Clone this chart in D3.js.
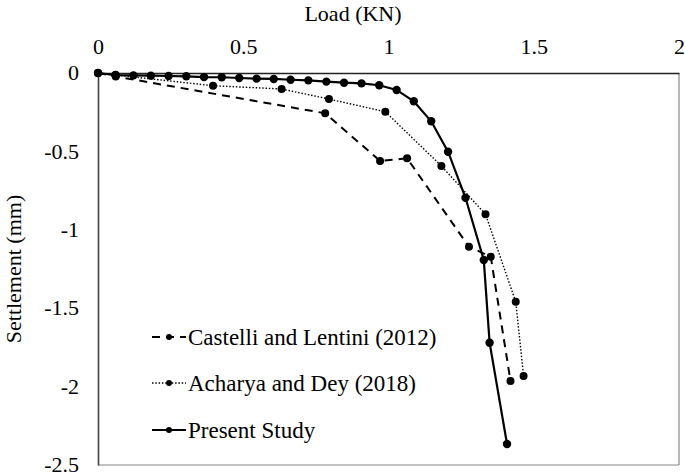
<!DOCTYPE html>
<html><head><meta charset="utf-8">
<script src="https://cdn.jsdelivr.net/npm/d3@7"></script>
<style>body{margin:0;background:#fff}svg{display:block}</style>
</head><body><svg id="c" width="685" height="472"></svg>
<script>
const seriesNames = ["Castelli and Lentini (2012)", "Acharya and Dey (2018)", "Present Study"];
const castelliLoad = [0, 0.061, 0.782, 0.971, 1.064, 1.277, 1.352, 1.420];
const castelliSettle = [0, -0.022, -0.257, -0.561, -0.544, -1.108, -1.172, -1.964];
const acharyaLoad = [0, 0.061, 0.396, 0.632, 0.795, 0.989, 1.182, 1.334, 1.438, 1.465];
const acharyaSettle = [0, -0.013, -0.081, -0.102, -0.166, -0.247, -0.593, -0.901, -1.459, -1.932];
const presentLoad = [0, 0.060, 0.122, 0.182, 0.243, 0.304, 0.365, 0.426, 0.486, 0.546, 0.605, 0.663, 0.724, 0.786, 0.847, 0.907, 0.968, 1.028, 1.087, 1.147, 1.205, 1.265, 1.328, 1.348, 1.408];
const presentSettle = [0, -0.013, -0.015, -0.017, -0.019, -0.021, -0.026, -0.027, -0.032, -0.036, -0.038, -0.043, -0.047, -0.055, -0.062, -0.066, -0.078, -0.108, -0.180, -0.308, -0.502, -0.796, -1.193, -1.720, -2.366];
const xTicks = [0, 0.5, 1, 1.5, 2];
const yTicks = [0, -0.5, -1, -1.5, -2, -2.5];

const FONT = "Liberation Serif";
const svg = d3.select("#c");
const x = d3.scaleLinear().domain([0, 2]).range([98, 679]);
const y = d3.scaleLinear().domain([0, -2.5]).range([73, 465]);
const fs = 22;

// frame (right & bottom)
svg.append("line").attr("x1", x(2)).attr("x2", x(2)).attr("y1", y(0)).attr("y2", y(-2.5)).attr("stroke", "#888").attr("stroke-width", 1.2);
svg.append("line").attr("x1", x(0)).attr("x2", x(2)).attr("y1", y(-2.5)).attr("y2", y(-2.5)).attr("stroke", "#888").attr("stroke-width", 1.2);

// axes
const xAxis = svg.append("g").attr("transform", `translate(0,${y(0)})`)
  .call(d3.axisTop(x).tickValues(xTicks).tickSize(0).tickPadding(19).tickFormat(d => String(d)));
const yAxis = svg.append("g").attr("transform", `translate(${x(0)},0)`)
  .call(d3.axisLeft(y).tickValues(yTicks).tickSize(0).tickPadding(19).tickFormat(d => String(d)));
[xAxis, yAxis].forEach(g => {
  g.attr("font-family", FONT).attr("font-size", fs);
  g.selectAll("text").attr("fill", "#000");
});
yAxis.selectAll("text").attr("dy", "0.3em");
xAxis.select(".domain").attr("stroke", "#222").attr("stroke-width", 1.6);
yAxis.select(".domain").attr("stroke", "#444").attr("stroke-width", 1.6);

// titles
svg.append("text").attr("x", 353).attr("y", 21).attr("text-anchor", "middle")
  .attr("font-family", FONT).attr("font-size", fs).text("Load (KN)");
svg.append("text").attr("transform", `translate(21,${(y(0) + y(-2.5)) / 2}) rotate(-90)`).attr("text-anchor", "middle")
  .attr("font-family", FONT).attr("font-size", fs).text("Settlement (mm)");

const series = [
  {name: seriesNames[0], lx: castelliLoad, ly: castelliSettle, dash: "8,6", w: 2, r: 4},
  {name: seriesNames[1], lx: acharyaLoad, ly: acharyaSettle, dash: "1.5,1.8", w: 1.4, r: 4},
  {name: seriesNames[2], lx: presentLoad, ly: presentSettle, dash: null, w: 2.2, r: 4.2}
];
const line = d3.line().x(d => x(d[0])).y(d => y(d[1]));
series.forEach(s => {
  const pts = s.lx.map((v, i) => [v, s.ly[i]]);
  svg.append("path").datum(pts).attr("d", line).attr("fill", "none").attr("stroke", "#000")
    .attr("stroke-width", s.w).attr("stroke-dasharray", s.dash);
  svg.append("g").selectAll("circle").data(pts).join("circle")
    .attr("cx", d => x(d[0])).attr("cy", d => y(d[1])).attr("r", s.r).attr("fill", "#000");
});

// legend
const legY = [337, 383, 430];
series.forEach((s, i) => {
  const g = svg.append("g").attr("transform", `translate(0,${legY[i]})`);
  g.append("line").attr("x1", 152).attr("x2", 186).attr("y1", 0).attr("y2", 0)
    .attr("stroke", "#000").attr("stroke-width", s.w).attr("stroke-dasharray", s.dash);
  g.append("circle").attr("cx", 169).attr("cy", 0).attr("r", 3).attr("fill", "#000");
  g.append("text").attr("x", 188).attr("y", 0).attr("dy", "0.33em")
    .attr("font-family", FONT).attr("font-size", 23).text(s.name);
});
</script></body></html>
